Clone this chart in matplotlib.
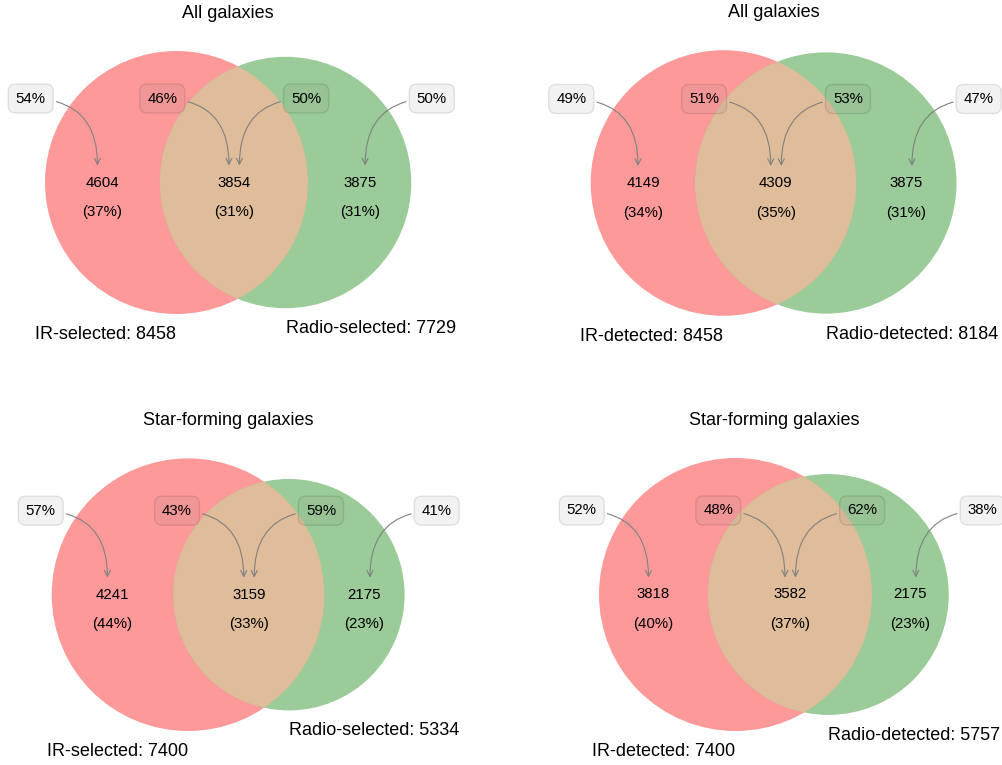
import numpy as np
import matplotlib
matplotlib.use("Agg")
import matplotlib.pyplot as plt
from matplotlib.patches import Circle

plt.rcParams['font.family'] = ['Liberation Sans', 'DejaVu Sans']

# ---------------- data ----------------
panel_titles = ["All galaxies", "All galaxies",
                "Star-forming galaxies", "Star-forming galaxies"]
set_names_a = ["IR-selected", "IR-detected", "IR-selected", "IR-detected"]
set_names_b = ["Radio-selected", "Radio-detected", "Radio-selected", "Radio-detected"]
only_a = [4604, 4149, 4241, 3818]
both = [3854, 4309, 3159, 3582]
only_b = [3875, 3875, 2175, 2175]
# fractions shown in the call-out boxes (of set A: only-A, both; of set B: both, only-B)
frac_a_only = [54, 49, 57, 52]
frac_a_both = [46, 51, 43, 48]
frac_b_both = [50, 53, 59, 62]
frac_b_only = [50, 47, 41, 38]

# ---------------- layout (pixels) ----------------
W, H = 1003, 765
anchor_cx = [176.5, 723.5, 188.0, 735.5]   # centre of set-A circle
anchor_cy = [182.5, 183.0, 594.7, 594.5]
radius_a_px = [131.5, 132.8, 136.3, 136.5]

col_a = "#fe999a"
col_b = "#9acb98"
col_ab = "#dfbc9a"


def lens_area(d, r1, r2):
    if d >= r1 + r2:
        return 0.0
    if d <= abs(r1 - r2):
        return np.pi * min(r1, r2) ** 2
    a1 = r1 ** 2 * np.arccos((d ** 2 + r1 ** 2 - r2 ** 2) / (2 * d * r1))
    a2 = r2 ** 2 * np.arccos((d ** 2 + r2 ** 2 - r1 ** 2) / (2 * d * r2))
    a3 = 0.5 * np.sqrt((-d + r1 + r2) * (d + r1 - r2) * (d - r1 + r2) * (d + r1 + r2))
    return a1 + a2 - a3


def solve_distance(r1, r2, area):
    lo, hi = abs(r1 - r2), r1 + r2
    for _ in range(100):
        mid = 0.5 * (lo + hi)
        if lens_area(mid, r1, r2) > area:
            lo = mid
        else:
            hi = mid
    return 0.5 * (lo + hi)


fig = plt.figure(figsize=(W / 100, H / 100), dpi=100)
ax = fig.add_axes([0, 0, 1, 1])
ax.set_xlim(0, W)
ax.set_ylim(H, 0)
ax.axis("off")

box = dict(boxstyle="round,pad=0.5", fc="gray", alpha=0.1)

for i in range(4):
    na = only_a[i] + both[i]
    nb = only_b[i] + both[i]
    total = only_a[i] + both[i] + only_b[i]
    # radii in sqrt-count units then scaled to pixels
    ra_u = np.sqrt(na / np.pi)
    rb_u = np.sqrt(nb / np.pi)
    d_u = solve_distance(ra_u, rb_u, both[i])
    s = radius_a_px[i] / ra_u
    ra, rb, d = ra_u * s, rb_u * s, d_u * s
    cxa, cy = anchor_cx[i], anchor_cy[i]
    cxb = cxa + d

    ca = Circle((cxa, cy), ra, fc=col_a, ec="none", zorder=1)
    cb = Circle((cxb, cy), rb, fc=col_b, ec="none", zorder=1)
    ax.add_patch(ca)
    ax.add_patch(cb)
    cab = Circle((cxb, cy), rb, fc=col_ab, ec="none", zorder=2)
    ax.add_patch(cab)
    cab.set_clip_path(ca)

    # subset label positions (midpoints of region extents along centre line)
    xa = 0.5 * ((cxa - ra) + (cxb - rb))
    xab = 0.5 * ((cxb - rb) + (cxa + ra))
    xb = 0.5 * ((cxa + ra) + (cxb + rb))
    for x, n in zip([xa, xab, xb], [only_a[i], both[i], only_b[i]]):
        ax.text(x, cy, f"{n}", ha="center", va="center", fontsize=10.8, zorder=5)
        ax.text(x, cy + 29.5, f"({round(100 * n / total)}%)", ha="center",
                va="center", fontsize=10.8, zorder=5)

    # title
    left = min(cxa - ra, cxb - rb)
    right = max(cxa + ra, cxb + rb)
    top = min(cy - ra, cy - rb)
    ax.text(0.5 * (left + right), top - 37.5, panel_titles[i], ha="center",
            va="center", fontsize=13, zorder=5)

    # set labels
    ax.text(cxa, cy + ra + 12, f"{set_names_a[i]}: {na}", ha="right", va="top",
            fontsize=13, zorder=5)
    ax.text(cxb, cy + rb + 12, f"{set_names_b[i]}: {nb}", ha="left", va="top",
            fontsize=13, zorder=5)

    # call-outs
    ty = cy - 17
    specs = [(xa - 5, frac_a_only[i], -1), (xab - 5, frac_a_both[i], -1),
             (xab + 5.5, frac_b_both[i], 1), (xb + 5.5, frac_b_only[i], 1)]
    for tx, pct, side in specs:
        bx = tx + side * 66.7
        by = ty - 67
        rad = -0.5 if side < 0 else 0.5
        ax.annotate(f"{pct}%", xy=(tx, ty), xytext=(bx, by), xycoords="data",
                    textcoords="data", ha="center", va="center", fontsize=10.8,
                    bbox=box, zorder=6,
                    arrowprops=dict(arrowstyle="->", color="gray", lw=0.8,
                                    connectionstyle=f"arc3,rad={rad}",
                                    shrinkB=0))

fig.savefig("out.png", dpi=100)
